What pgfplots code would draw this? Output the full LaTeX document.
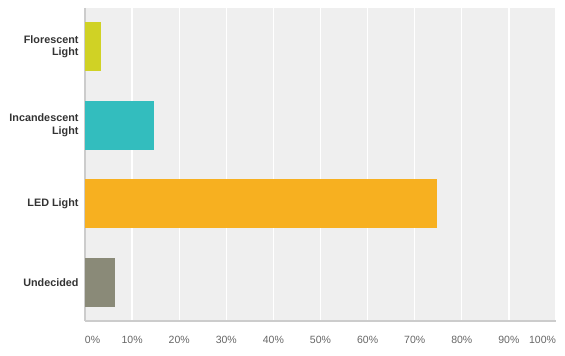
\documentclass[border=0pt]{standalone}
\usepackage{fontspec}
\setmainfont{Liberation Sans}
\usepackage{pgfplots}
\pgfplotsset{compat=1.18}
\definecolor{bgc}{HTML}{EFEFEF}
\definecolor{c1}{HTML}{D0D225}
\definecolor{c2}{HTML}{33BDBE}
\definecolor{c3}{HTML}{F7B020}
\definecolor{c4}{HTML}{8A8A78}
\definecolor{tickc}{HTML}{666666}
\definecolor{labc}{HTML}{333333}
\begin{document}
\begin{tikzpicture}
\path (-85pt,-35pt) rectangle (480pt,321pt);
\begin{axis}[
  scale only axis,
  width=471pt, height=313pt,
  xbar, bar width=49pt, bar shift=0pt,
  xmin=0, xmax=100,
  ymin=-0.49, ymax=3.49,
  y dir=reverse,
  ytick={0,1,2,3},
  yticklabels={Florescent\\Light, Incandescent\\Light, LED Light, Undecided},
  yticklabel style={align=right, font=\fontsize{10.8}{12.5}\selectfont\bfseries, text=labc, xshift=-3pt},
  xtick={0,10,...,100},
  xticklabels={\rlap{0\%},10\%,20\%,30\%,40\%,50\%,60\%,70\%,80\%,90\%,\llap{100\%}},
  xticklabel style={font=\fontsize{10.5}{12}\selectfont, text=tickc, yshift=-12pt},
  major tick length=0pt,
  xmajorgrids, grid style={white, line width=1.2pt},
  axis background/.style={fill=bgc},
  axis x line*=bottom, axis y line*=left,
  axis line style={draw=black!20, line width=1.2pt, -},
  separate axis lines,
  every axis plot/.append style={draw=none},
  clip=false,
]
\addplot[fill=c1] coordinates {(3.5,0)};
\addplot[fill=c2] coordinates {(14.6,1)};
\addplot[fill=c3] coordinates {(74.7,2)};
\addplot[fill=c4] coordinates {(6.4,3)};
\end{axis}
\end{tikzpicture}
\end{document}
